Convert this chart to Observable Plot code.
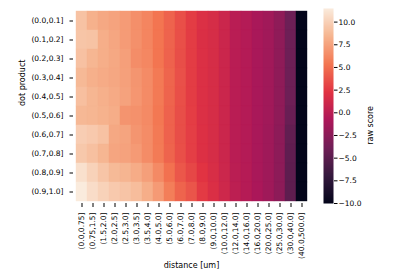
<!DOCTYPE html>
<html>
<head>
<meta charset="utf-8">
<script src="https://cdn.jsdelivr.net/npm/d3@7"></script>
<script src="https://cdn.jsdelivr.net/npm/@observablehq/plot@0.6"></script>
<style>
  html, body { margin: 0; padding: 0; background: #fff; }
  #wrap { position: relative; width: 400px; height: 280px; overflow: hidden; }
  #wrap svg { position: absolute; left: 0; top: 0; }
  #wrap svg, #wrap svg text { font-family: "DejaVu Sans" !important; }
</style>
</head>
<body>
<div id="wrap"></div>
<script>
const dotBins = ["(0.0,0.1]","(0.1,0.2]","(0.2,0.3]","(0.3,0.4]","(0.4,0.5]","(0.5,0.6]","(0.6,0.7]","(0.7,0.8]","(0.8,0.9]","(0.9,1.0]"];
const distBins = ["(0.0,0.75]","(0.75,1.5]","(1.5,2.0]","(2.0,2.5]","(2.5,3.0]","(3.0,3.5]","(3.5,4.0]","(4.0,5.0]","(5.0,6.0]","(6.0,7.0]","(7.0,8.0]","(8.0,9.0]","(9.0,10.0]","(10.0,12.0]","(12.0,14.0]","(14.0,16.0]","(16.0,20.0]","(20.0,25.0]","(25.0,30.0]","(30.0,40.0]","(40.0,500.0]"];

// raw score per dot-product bin (rows), one value per distance bin
const row00 = [9.21, 8.28, 7.84, 7.59, 7.19, 6.60, 6.10, 5.31, 4.49, 3.57, 2.70, 1.95, 1.60, 0.90, -0.10, -0.40, -1.00, -1.40, -2.30, -4.00, -10.0];
const row01 = [9.38, 9.27, 8.13, 7.74, 7.19, 6.65, 6.10, 5.31, 4.49, 3.57, 2.70, 1.90, 1.60, 0.90, -0.10, -0.40, -1.00, -1.40, -2.30, -4.00, -10.0];
const row02 = [9.16, 8.54, 8.13, 7.84, 7.39, 6.50, 6.20, 5.31, 4.44, 3.53, 2.70, 1.95, 1.60, 0.90, -0.10, -0.40, -1.00, -1.40, -2.30, -4.00, -10.0];
const row03 = [8.71, 8.23, 7.99, 7.79, 7.44, 6.89, 6.40, 5.56, 4.58, 3.62, 2.70, 1.95, 1.60, 0.90, -0.10, -0.40, -1.00, -1.40, -2.30, -4.00, -10.0];
const row04 = [9.04, 8.54, 8.23, 7.94, 7.54, 6.94, 6.40, 5.56, 4.53, 3.57, 2.70, 1.95, 1.60, 0.90, -0.10, -0.40, -1.00, -1.40, -2.30, -4.00, -10.0];
const row05 = [8.65, 8.54, 8.33, 8.08, 6.85, 6.70, 6.35, 5.46, 4.44, 3.53, 2.75, 1.95, 1.60, 0.90, -0.10, -0.40, -1.00, -1.40, -2.30, -4.20, -10.0];
const row06 = [9.83, 9.60, 9.21, 7.84, 7.64, 6.89, 6.45, 5.56, 4.44, 3.53, 2.80, 2.00, 1.60, 0.90, -0.10, -0.40, -1.00, -1.50, -2.40, -4.60, -10.0];
const row07 = [9.55, 9.10, 8.54, 7.69, 7.54, 7.14, 6.45, 5.61, 4.53, 3.57, 2.80, 2.00, 1.60, 0.90, -0.10, -0.40, -1.00, -1.50, -2.40, -4.70, -10.0];
const row08 = [10.88, 10.10, 9.38, 8.76, 8.49, 8.03, 7.39, 6.35, 5.13, 3.94, 3.20, 2.30, 1.70, 1.00, 0.00, -0.30, -1.00, -1.50, -2.40, -4.80, -10.0];
const row09 = [11.50, 10.66, 10.10, 9.60, 9.32, 8.93, 8.13, 7.14, 5.76, 4.53, 3.85, 2.60, 1.90, 1.10, 0.10, -0.30, -0.90, -1.50, -2.40, -4.80, -10.0];
const scoreRows = [row00, row01, row02, row03, row04, row05, row06, row07, row08, row09];

const cbTicks = [-10, -7.5, -5, -2.5, 0, 2.5, 5, 7.5, 10];
const scoreDomain = [-10, 11.5];

// seaborn "rocket" colormap anchor colours
const rocketStops = ["#03051a", "#35193e", "#701f57", "#ad1759", "#e13342", "#f37651", "#f6b48f", "#faebdd"];
const rocket = d3.piecewise(d3.interpolateRgb, rocketStops);

const cells = [];
scoreRows.forEach((row, i) => row.forEach((v, j) => cells.push({dot: dotBins[i], dist: distBins[j], score: v})));

const font = {fontFamily: "DejaVu Sans", fontSize: "7.5px", color: "#000", background: "transparent", overflow: "visible"};

const main = Plot.plot({
  width: 400, height: 280,
  marginLeft: 73, marginRight: 91, marginTop: 8, marginBottom: 77,
  style: font,
  x: {domain: distBins, padding: 0},
  y: {domain: dotBins, padding: 0},
  color: {type: "linear", domain: scoreDomain, interpolate: rocket},
  marks: [
    Plot.cell(cells, {x: "dist", y: "dot", fill: "score", stroke: "score", strokeWidth: 0.4}),
    Plot.axisX({tickRotate: -90, tickSize: 4, tickPadding: 5, label: null}),
    Plot.axisY({tickSize: 3.5, tickPadding: 6.5, label: null}),
    Plot.text(["distance [um]"], {frameAnchor: "bottom", dy: 64, fontSize: 8}),
    Plot.text(["dot product"], {frameAnchor: "left", dx: -51, rotate: -90, fontSize: 8})
  ]
});

const bar = Plot.plot({
  width: 400, height: 280,
  marginLeft: 323, marginRight: 67, marginTop: 8, marginBottom: 77,
  style: font,
  x: {domain: [0, 1], axis: null},
  y: {domain: scoreDomain},
  color: {type: "linear", domain: scoreDomain, interpolate: rocket},
  marks: [
    Plot.raster({x1: 0, x2: 1, y1: scoreDomain[0], y2: scoreDomain[1], fill: (x, y) => y}),
    Plot.axisY({anchor: "right", ticks: cbTicks, tickFormat: d3.format(".1f"), tickSize: 3.5, tickPadding: 1.5, label: null}),
    Plot.text(["raw score"], {frameAnchor: "right", dx: 37, rotate: -90, fontSize: 8})
  ]
});

const wrap = document.getElementById("wrap");
wrap.appendChild(main);
wrap.appendChild(bar);
</script>
</body>
</html>
